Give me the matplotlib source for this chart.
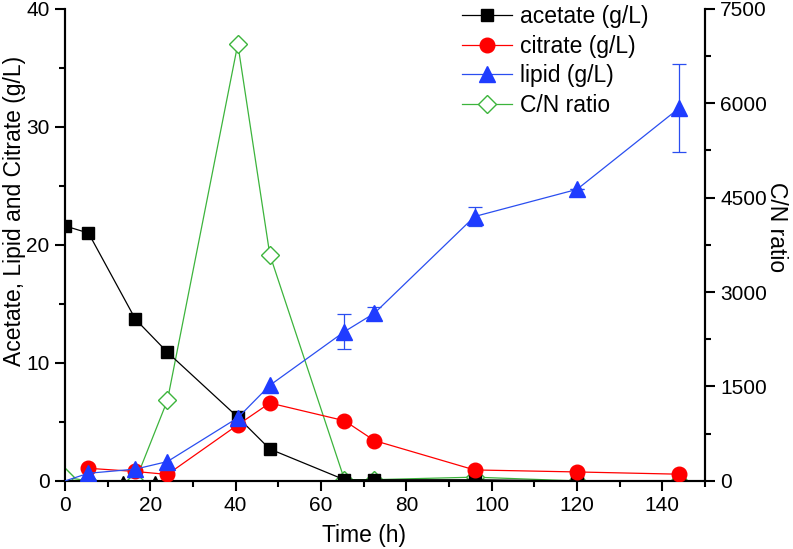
import numpy as np
import matplotlib
matplotlib.use('Agg')
import matplotlib.pyplot as plt
from matplotlib.ticker import MultipleLocator

plt.rcParams['font.family'] = ['Liberation Sans', 'DejaVu Sans']

# time points (h)
time = [0, 5.5, 16.5, 24, 40.5, 48, 65.5, 72.5, 96, 120, 144]

acetate = [21.6, 21.0, 13.7, 10.9, 5.4, 2.7, 0.1, 0.1, 0.1, 0.0, 0.0]
citrate_t = [5.5, 16.5, 24, 40.5, 48, 65.5, 72.5, 96, 120, 144]
citrate = [1.07, 0.8, 0.55, 4.75, 6.6, 5.1, 3.42, 0.93, 0.76, 0.57]
lipid = [0.0, 0.65, 1.0, 1.64, 5.35, 8.1, 12.65, 14.2, 22.4, 24.7, 31.6]
lipid_err = [0, 0, 0, 0, 0, 0, 1.5, 0.5, 0.8, 0, 3.7]
cn_ratio = [60, 0, 0, 1280, 6940, 3595, 20, 20, 60, 0, 0]

# small hidden markers near zero
extra_t = [13.6, 21.0]
extra_y = [0.0, 0.0]

fig = plt.figure(figsize=(7.93, 5.49), dpi=100)
ax = fig.add_axes([0.082, 0.124, 0.807, 0.86])
ax2 = ax.twinx()

lw = 0.9
blue = '#2a4ef0'
ax.plot(extra_t, extra_y, '^', color='black', ms=7, zorder=3)
l1, = ax.plot(time, acetate, '-s', color='black', lw=lw, ms=9, label='acetate (g/L)', zorder=4)
l2, = ax.plot(citrate_t, citrate, '-o', color='#ff0000', mec='#ff0000', lw=lw, ms=10.5, label='citrate (g/L)', zorder=4)
ax.errorbar(time[6:], lipid[6:], yerr=lipid_err[6:], fmt='none', ecolor=blue,
            elinewidth=lw, capsize=5, capthick=lw, zorder=5)
l3, = ax.plot(time, lipid, '-^', color=blue, mfc='#1f3cff', mec='#1f3cff', lw=lw, ms=11,
              markevery=list(range(1, len(time))), label='lipid (g/L)', zorder=5)
l4, = ax2.plot(time, cn_ratio, '-D', color='#3cb43c', mfc='white', mec='#3cb43c', mew=1.0, lw=lw, ms=9,
               label='C/N ratio', zorder=5)

ax.set_xlim(0, 150)
ax.set_ylim(0, 40)
ax2.set_ylim(0, 7500)

ax.xaxis.set_major_locator(MultipleLocator(20))
ax.xaxis.set_minor_locator(MultipleLocator(10))
ax.yaxis.set_major_locator(MultipleLocator(10))
ax.yaxis.set_minor_locator(MultipleLocator(5))
ax2.yaxis.set_major_locator(MultipleLocator(1500))
ax2.yaxis.set_minor_locator(MultipleLocator(750))

for a in (ax, ax2):
    a.spines['top'].set_visible(False)
    for s in a.spines.values():
        s.set_linewidth(1.5)
    a.tick_params(which='major', direction='out', length=7, width=1.5, labelsize=15, pad=4)
    a.tick_params(which='minor', direction='out', length=4, width=1.5)
ax.set_xticks([0, 20, 40, 60, 80, 100, 120, 140])

ax.set_xlabel('Time (h)', fontsize=16.5, labelpad=6, x=0.467)
ax.set_ylabel('Acetate, Lipid and Citrate (g/L)', fontsize=16.5, labelpad=0, y=0.572)
ax2.set_ylabel('C/N ratio', fontsize=16.5, rotation=270, labelpad=15, y=0.538)

handles = [l1, l2, l3, l4]
leg = fig.legend(handles, [h.get_label() for h in handles], loc='upper left',
                 bbox_to_anchor=(462 / 793, 0.99), frameon=False, fontsize=16.5,
                 borderpad=0, borderaxespad=0,
                 handlelength=2.2, labelspacing=0.28, handletextpad=0.35)
ax.set_zorder(ax2.get_zorder() + 1)
ax.patch.set_visible(False)

fig.savefig('out.png', dpi=100)
